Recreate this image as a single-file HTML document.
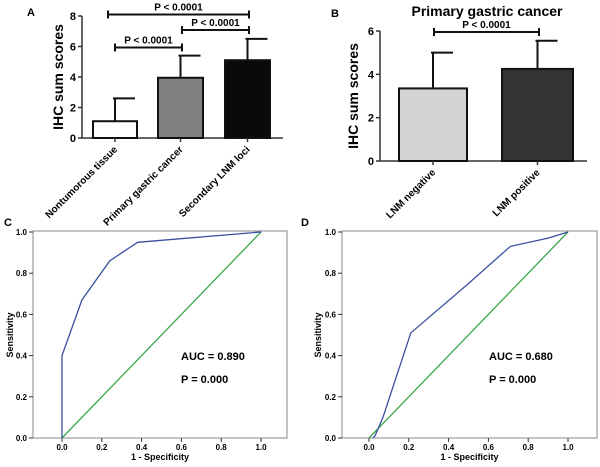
<!DOCTYPE html>
<html><head><meta charset="utf-8"><style>
body{margin:0;background:#fff}
svg{font-family:"Liberation Sans",Arial,sans-serif;display:block}
</style></head><body>
<svg id="fig" width="600" height="467" viewBox="0 0 600 467"></svg>
<script>
// Panel A data
const aCats=["Nontumorous tissue","Primary gastric cancer","Secondary LNM loci"];
const aVals=[1.1,3.95,5.1];
const aErr=[2.6,5.4,6.5];
const aTicks=[0,2,4,6,8];
// Panel B data
const bCats=["LNM negative","LNM positive"];
const bVals=[3.35,4.25];
const bErr=[5.0,5.55];
const bTicks=[0,2,4,6];
// ROC data
const cX=[0,0,0.1,0.24,0.38,1];
const cY=[0,0.4,0.67,0.86,0.95,1];
const dX=[0.02,0.03,0.07,0.21,0.5,0.71,0.9,1];
const dY=[0,0.01,0.1,0.51,0.75,0.93,0.97,1];
const rocTicks=[0,0.2,0.4,0.6,0.8,1.0];

const svg=document.getElementById('fig');
const NS='http://www.w3.org/2000/svg';
function mk(tag,attrs,parent){const e=document.createElementNS(NS,tag);for(const k in attrs)e.setAttribute(k,attrs[k]);(parent||svg).appendChild(e);return e;}
function txt(s,attrs,parent){const e=mk('text',attrs,parent);e.textContent=s;return e;}

function barPanel(o){
  const g=mk('g',{});
  
  
  const y=v=>o.y0-(v/o.max)*(o.y0-o.yTop);
  const ax=mk('path',{d:`M${o.ax},${o.yTop} V${o.y0} H${o.xEnd}`,stroke:'#333',fill:'none','stroke-width':1.5},g);
  
  
  o.ticks.forEach(t=>{
    mk('line',{x1:o.ax-4,x2:o.ax,y1:y(t),y2:y(t),stroke:'#333','stroke-width':1.5},g);
    const tl=txt(String(t),{x:o.ax-6,y:y(t)+4,'text-anchor':'end','font-size':11,'font-weight':'bold'},g);
    
    
  });
  const yl=txt('IHC sum scores',{x:0,y:0,transform:`translate(${o.ylx},${(o.y0+o.yTop)/2}) rotate(-90)`,'text-anchor':'middle','font-size':14,'font-weight':'bold'},g);
  
  
  o.cats.forEach((c,i)=>{
    const x0=o.bx[i][0],x1=o.bx[i][1],cx=(x0+x1)/2;
    const er=mk('line',{x1:cx,x2:cx,y1:y(o.vals[i]),y2:y(o.err[i]),stroke:'#111','stroke-width':2},g);
    
    
    mk('line',{x1:cx-2,x2:cx+20,y1:y(o.err[i]),y2:y(o.err[i]),stroke:'#111','stroke-width':2},g);
    const b=mk('rect',{x:x0,y:y(o.vals[i]),width:x1-x0,height:o.y0-y(o.vals[i]),fill:o.fills[i],stroke:'#111','stroke-width':2},g);
    
    
    mk('line',{x1:cx,x2:cx,y1:o.y0,y2:o.y0+4,stroke:'#333','stroke-width':1.5},g);
    const l=txt(c,{x:0,y:0,transform:`translate(${cx+3},${o.y0+12}) rotate(-45)`,'text-anchor':'end','font-size':10,'font-weight':'bold'},g);
    
    
  });
  o.sig.forEach(s=>{
    const sg=mk('g',{},g);
    
    
    mk('line',{x1:s[0],x2:s[1],y1:s[2],y2:s[2],stroke:'#111','stroke-width':2},sg);
    mk('line',{x1:s[0],x2:s[0],y1:s[2]-4,y2:s[2]+4,stroke:'#111','stroke-width':2},sg);
    mk('line',{x1:s[1],x2:s[1],y1:s[2]-4,y2:s[2]+4,stroke:'#111','stroke-width':2},sg);
    txt(s[3],{x:(s[0]+s[1])/2,y:s[2]-4,'text-anchor':'middle','font-size':10,'font-weight':'bold'},sg);
  });
  const pl=txt(o.letter,{x:o.lx,y:o.ly,'font-size':11,'font-weight':'bold'},g);
  
  
  return g;
}

barPanel({name:'panel-a-bar-chart',ax:82,xEnd:283,y0:138,yTop:16,max:8,ticks:aTicks,cats:aCats,vals:aVals,err:aErr,
  bx:[[93,137],[158,203],[225,270]],fills:['#fff','#808080','#0a0a0a'],ylx:63,letter:'A',lx:27,ly:16,
  sig:[[108,249,14.5,'P < 0.0001'],[182,249,30,'P < 0.0001'],[115,182,47.5,'P < 0.0001']]});
barPanel({name:'panel-b-bar-chart',ax:380,xEnd:587,y0:161,yTop:31,max:6,ticks:bTicks,cats:bCats,vals:bVals,err:bErr,
  bx:[[399,467],[502,573]],fills:['#d3d3d3','#333','#000'],ylx:358,letter:'B',lx:331,ly:17,
  sig:[[434,539,32,'P <  0.0001']]});
const bt=txt('Primary gastric cancer',{x:487,y:16,'text-anchor':'middle','font-size':14,'font-weight':'bold'});



function rocPanel(o){
  const g=mk('g',{});
  
  
  const X=v=>o.x0+v*(o.x1-o.x0), Y=v=>o.y0-v*(o.y0-o.y1);
  const box=mk('rect',{x:o.bl,y:o.bt,width:o.br-o.bl,height:o.y0-o.bt,fill:'#fff',stroke:'#888','stroke-width':1},g);
  
  
  rocTicks.forEach(t=>{
    mk('line',{x1:o.bl-4,x2:o.bl,y1:Y(t),y2:Y(t),stroke:'#333'},g);
    txt(t.toFixed(1),{x:o.bl-6,y:Y(t)+3,'text-anchor':'end','font-size':8,'font-weight':'bold'},g);
    mk('line',{x1:X(t),x2:X(t),y1:o.y0,y2:o.y0+4,stroke:'#333'},g);
    txt(t.toFixed(1),{x:X(t),y:o.y0+12,'text-anchor':'middle','font-size':8,'font-weight':'bold'},g);
  });
  const diag=mk('line',{x1:X(0),y1:Y(0),x2:X(1),y2:Y(1),stroke:'#3aa84a','stroke-width':1.3},g);
  
  
  const pts=o.xs.map((v,i)=>X(v)+','+Y(o.ys[i])).join(' ');
  const roc=mk('polyline',{points:pts,fill:'none',stroke:'#3b4fa0','stroke-width':1.3},g);
  
  
  txt(o.auc,{x:o.tx,y:o.ty,'font-size':11,'font-weight':'bold'},g);
  txt('P = 0.000',{x:o.tx,y:o.ty+23,'font-size':11,'font-weight':'bold'},g);
  const xl=txt('1 - Specificity',{x:(o.bl+o.br)/2,y:460,'text-anchor':'middle','font-size':9,'font-weight':'bold'},g);
  
  
  const yl=txt('Sensitivity',{x:0,y:0,transform:`translate(${o.ylx},${Y(0.5)}) rotate(-90)`,'text-anchor':'middle','font-size':9,'font-weight':'bold'},g);
  
  
  const pl=txt(o.letter,{x:o.lx,y:226,'font-size':11,'font-weight':'bold'},g);
  
  
}
rocPanel({name:'panel-c-roc',bl:33,br:287,bt:231,x0:62,x1:261,y0:438,y1:232,xs:cX,ys:cY,auc:'AUC = 0.890',tx:181,ty:360,ylx:13,letter:'C',lx:4});
rocPanel({name:'panel-d-roc',bl:342,br:597,bt:231,x0:369,x1:568,y0:438,y1:232,xs:dX,ys:dY,auc:'AUC = 0.680',tx:489,ty:360,ylx:321,letter:'D',lx:301});
</script>
</body></html>
